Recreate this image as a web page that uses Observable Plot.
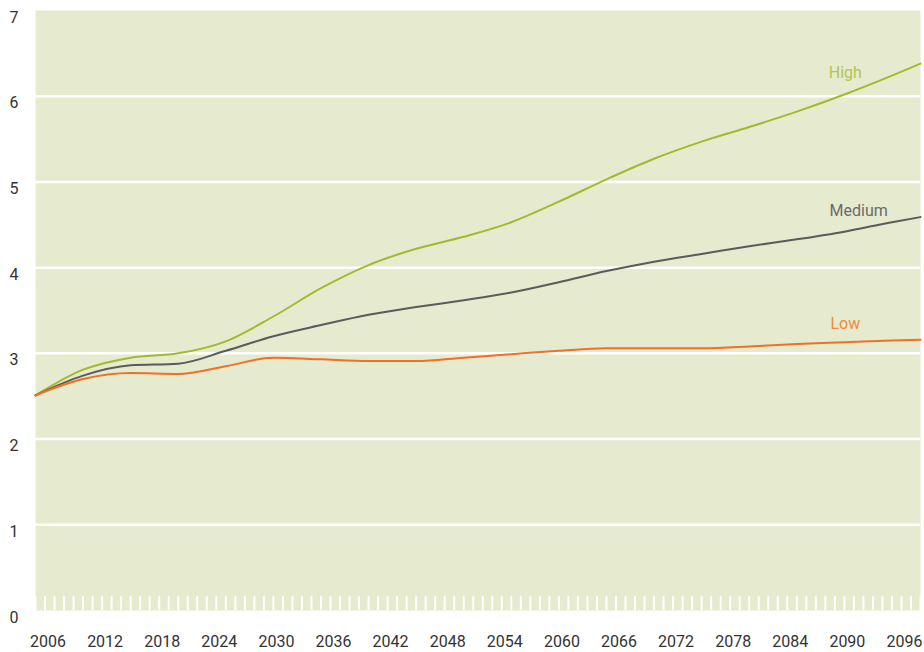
<!DOCTYPE html>
<html>
<head>
<meta charset="utf-8">
<script src="https://cdn.jsdelivr.net/npm/d3@7"></script>
<script src="https://cdn.jsdelivr.net/npm/@observablehq/plot@0.6"></script>
<style>
  html, body { margin: 0; padding: 0; background: #ffffff; }
  #chart { width: 924px; height: 652px; }
</style>
</head>
<body>
<div id="chart"></div>
<script>
const years = [2005, 2010, 2015, 2020, 2025, 2030, 2035, 2040, 2045, 2050, 2055, 2060, 2065, 2070, 2075, 2080, 2085, 2090, 2095, 2098];
const high   = [2.51, 2.81, 2.95, 3.00, 3.14, 3.43, 3.76, 4.03, 4.22, 4.36, 4.53, 4.77, 5.03, 5.27, 5.47, 5.64, 5.82, 6.02, 6.24, 6.38];
const medium = [2.51, 2.74, 2.86, 2.88, 3.03, 3.20, 3.33, 3.45, 3.54, 3.62, 3.71, 3.83, 3.96, 4.07, 4.16, 4.25, 4.33, 4.42, 4.53, 4.59];
const low    = [2.51, 2.70, 2.77, 2.76, 2.85, 2.95, 2.93, 2.91, 2.91, 2.95, 2.99, 3.03, 3.06, 3.06, 3.06, 3.08, 3.11, 3.13, 3.15, 3.16];
const xTickLabels = [2006, 2012, 2018, 2024, 2030, 2036, 2042, 2048, 2054, 2060, 2066, 2072, 2078, 2084, 2090, 2096];
const yTicks = [0, 1, 2, 3, 4, 5, 6, 7];
const seriesNames = ["High", "Medium", "Low"];
const seriesColors = ["#a4b92b", "#5b5b5b", "#f07024"];
const labelColors = ["#b3c44c", "#6a6a6a", "#f08a3e"];
const labelYears = [2090.1, 2091.5, 2090.1];
const labelValues = [6.27, 4.66, 3.34];

const seriesValues = [high, medium, low];
const rows = [];
seriesNames.forEach((s, i) => years.forEach((y, j) => rows.push({series: s, year: y, value: seriesValues[i][j]})));
const labels = seriesNames.map((s, i) => ({series: s, year: labelYears[i], value: labelValues[i], color: labelColors[i]}));
const minorYears = d3.range(2005, 2099);

const font = "'Roboto', 'Liberation Sans', sans-serif";

const chart = Plot.plot({
  width: 924,
  height: 652,
  marginTop: 10,
  marginBottom: 42,
  marginLeft: 35,
  marginRight: 4,
  style: {fontFamily: font, fontSize: "16px", color: "#333", background: "#ffffff"},
  x: {domain: [2005, 2098], label: null},
  y: {domain: [0, 7], label: null},
  color: {domain: seriesNames, range: seriesColors},
  marks: [
    Plot.frame({fill: "#e6eacf", stroke: null}),
    Plot.ruleY([1, 2, 3, 4, 5, 6], {stroke: "#ffffff", strokeWidth: 2.5}),
    Plot.ruleX(minorYears, {x: d => d, y1: 0, y2: 0.16, stroke: "#ffffff", strokeWidth: 2}),
    Plot.axisY(yTicks, {tickSize: 0, tickPadding: 17, dy: 7, fill: "#333", fontSize: 16, tickFormat: d => String(d), label: null}),
    Plot.axisX(xTickLabels, {tickSize: 0, tickPadding: 25, dx: 3, fill: "#333", fontSize: 16, tickFormat: d => String(d), label: null}),
    Plot.line(rows, {x: "year", y: "value", z: "series", stroke: "series", strokeWidth: 2, curve: "monotone-x"}),
    Plot.text(labels, {x: "year", y: "value", text: "series", fill: "color", fontSize: 16})
  ]
});
document.getElementById("chart").appendChild(chart);
</script>
</body>
</html>
